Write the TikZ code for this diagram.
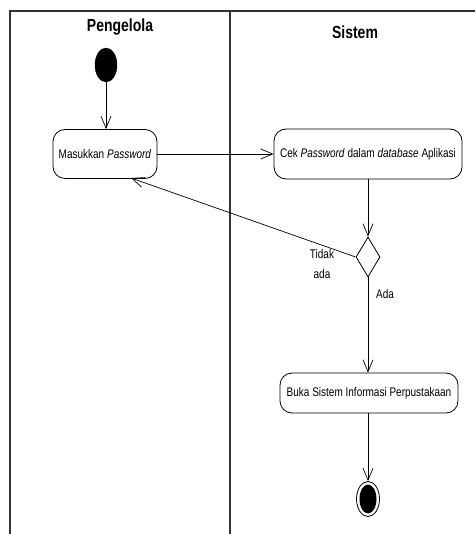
\documentclass[tikz,border=0pt]{standalone}
\usepackage{fontspec}
\setmainfont{Liberation Sans}[FakeStretch=0.8]
\usetikzlibrary{arrows.meta,shapes.geometric}
\tikzset{
  lane/.style={draw=black!80, line width=1.3pt},
  act/.style={draw, rounded corners=12pt, line width=0.8pt, inner sep=0pt, font=\fontsize{12.5}{14}\selectfont},
  flow/.style={draw, line width=0.7pt, -{Straight Barb[length=12pt,width=10pt,line width=0.7pt]}},
  lbl/.style={font=\fontsize{12.5}{14}\selectfont, inner sep=0pt},
  ttl/.style={font=\bfseries\fontsize{17.5}{20}\selectfont, inner sep=0pt}
}
\begin{document}
\begin{tikzpicture}[x=1pt,y=-1pt]
\useasboundingbox (0,0) rectangle (475,534);
% swimlanes
\draw[lane] (10,534) -- (10,11) -- (475,11);
\draw[lane] (230,11) -- (230,534);
\node[ttl] (t1) at (120,27) {Pengelola};
\node[ttl] (t2) at (355,32) {Sistem};
% nodes
\node[draw, fill=black, ellipse, minimum width=22pt, minimum height=34pt, inner sep=0pt] (start) at (106,65) {};
\node[act, minimum width=104pt, minimum height=49pt] (a1) at (105,154) {Masukkan \textit{Password}};
\node[act, minimum width=188pt, minimum height=50pt] (a2) at (368,154) {Cek \textit{Password} dalam \textit{database} Aplikasi};
\node[draw, diamond, aspect=0.6, line width=0.8pt, minimum width=24pt, minimum height=40pt, inner sep=0pt] (d) at (368,257) {};
\node[act, minimum width=178pt, minimum height=40pt] (a3) at (369,393) {Buka Sistem Informasi Perpustakaan};
\node[draw, ellipse, line width=0.8pt, minimum width=23pt, minimum height=35pt, inner sep=0pt] (end) at (368,499) {};
\node[fill=black, ellipse, minimum width=17pt, minimum height=29pt, inner sep=0pt] (endin) at (368,499) {};
% labels
\node[lbl] (l1) at (322,254) {Tidak};
\node[lbl] (l2) at (322,274) {ada};
\node[lbl] (l3) at (385,294) {Ada};
% flows
\draw[flow] (start) -- (start|-a1.north);
\draw[flow] (a1) -- (a2);
\draw[flow] (a2.south-|d) -- (d.north);
\draw[flow] (d.west) -- (131,178);
\draw[flow] (d.south) -- (d.south|-a3.north);
\draw[flow] (a3.south-|end) -- (end.north);
\end{tikzpicture}
\end{document}
